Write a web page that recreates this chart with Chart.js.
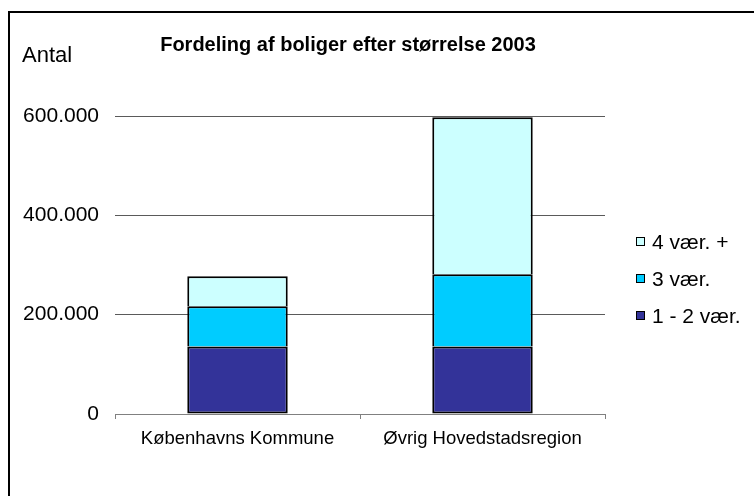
<!DOCTYPE html>
<html>
<head>
<meta charset="utf-8">
<script src="https://cdn.jsdelivr.net/npm/chart.js@4/dist/chart.umd.min.js"></script>
<style>
  html, body { margin: 0; padding: 0; background: #fff; }
  #wrap { width: 754px; height: 496px; position: relative; }
</style>
</head>
<body>
<div id="wrap"><canvas id="c" width="754" height="496"></canvas></div>
<script>
const categories = ['Københavns Kommune', 'Øvrig Hovedstadsregion'];
const seriesLabels = ['1 - 2 vær.', '3 vær.', '4 vær. +'];
const rooms12 = [136000, 136000];
const rooms3 = [81000, 145500];
const rooms4plus = [60500, 316000];
const yTickValues = [0, 200000, 400000, 600000];
const titleText = 'Fordeling af boliger efter størrelse 2003';
const yAxisLabel = 'Antal';

const FONT = "'Liberation Sans', Arial, Helvetica, sans-serif";
const colors = ['#333399', '#00CCFF', '#CCFFFF'];

function fmt(v) {
  return String(v).replace(/\B(?=(\d{3})+(?!\d))/g, '.');
}

const decor = {
  id: 'decor',
  beforeDraw(chart) {
    const ctx = chart.ctx;
    ctx.save();
    ctx.fillStyle = '#fff';
    ctx.fillRect(0, 0, chart.width, chart.height);
    ctx.restore();
  },
  afterDraw(chart) {
    const ctx = chart.ctx;
    ctx.save();
    // outer border
    ctx.strokeStyle = '#000';
    ctx.lineWidth = 2;
    ctx.strokeRect(9, 12, 900, 700);
    // title
    ctx.fillStyle = '#000';
    ctx.font = 'bold 20px ' + FONT;
    ctx.textAlign = 'center';
    ctx.textBaseline = 'alphabetic';
    const ca = chart.chartArea;
    ctx.fillText(titleText, (ca.left + ca.right) / 2 - 12, 51);
    // axis label
    ctx.font = '22px ' + FONT;
    ctx.textAlign = 'left';
    ctx.fillText(yAxisLabel, 22, 62);
    // legend (reverse order)
    const ds = chart.data.datasets;
    const rows = [242, 279, 316];
    ctx.textBaseline = 'middle';
    for (let i = 0; i < ds.length; i++) {
      const d = ds[ds.length - 1 - i];
      const cy = rows[i];
      ctx.fillStyle = d.backgroundColor;
      ctx.fillRect(636.5, cy - 4.5, 8, 8);
      ctx.strokeStyle = '#000';
      ctx.lineWidth = 1;
      ctx.strokeRect(636.5, cy - 4.5, 8, 8);
      ctx.fillStyle = '#000';
      ctx.font = '21px ' + FONT;
      ctx.fillText(d.label, 652, cy + 1);
    }
    ctx.restore();
  }
};

new Chart(document.getElementById('c'), {
  type: 'bar',
  data: {
    labels: categories,
    datasets: [
      { label: seriesLabels[0], data: rooms12, backgroundColor: colors[0], borderColor: '#000', borderWidth: 2, borderSkipped: false },
      { label: seriesLabels[1], data: rooms3, backgroundColor: colors[1], borderColor: '#000', borderWidth: 2 },
      { label: seriesLabels[2], data: rooms4plus, backgroundColor: colors[2], borderColor: '#000', borderWidth: 2 }
    ]
  },
  options: {
    responsive: false,
    animation: false,
    layout: { padding: { top: 116, right: 149, bottom: 0, left: 0 } },
    datasets: { bar: { barPercentage: 0.41, categoryPercentage: 1.0 } },
    plugins: {
      legend: { display: false },
      title: { display: false },
      tooltip: { enabled: false }
    },
    scales: {
      x: {
        stacked: true,
        grid: { offset: true, drawOnChartArea: false, drawTicks: true, tickLength: 5, color: '#808080' },
        border: { display: true, color: '#808080', width: 1 },
        ticks: { color: '#000', font: { size: 18.5, family: FONT }, padding: 9, maxRotation: 0 },
        afterFit(s) { s.height = 82; }
      },
      y: {
        stacked: true,
        min: 0,
        max: 600000,
        afterBuildTicks(s) { s.ticks = yTickValues.map(v => ({ value: v })); },
        ticks: { color: '#000', font: { size: 21, family: FONT }, padding: 16, callback: v => fmt(v) },
        grid: {
          drawTicks: false,
          color: c => (c.tick && c.tick.value === 0) ? 'rgba(0,0,0,0)' : '#5a5a5a'
        },
        border: { display: false },
        afterFit(s) { s.width = 115; }
      }
    }
  },
  plugins: [decor]
});
</script>
</body>
</html>
